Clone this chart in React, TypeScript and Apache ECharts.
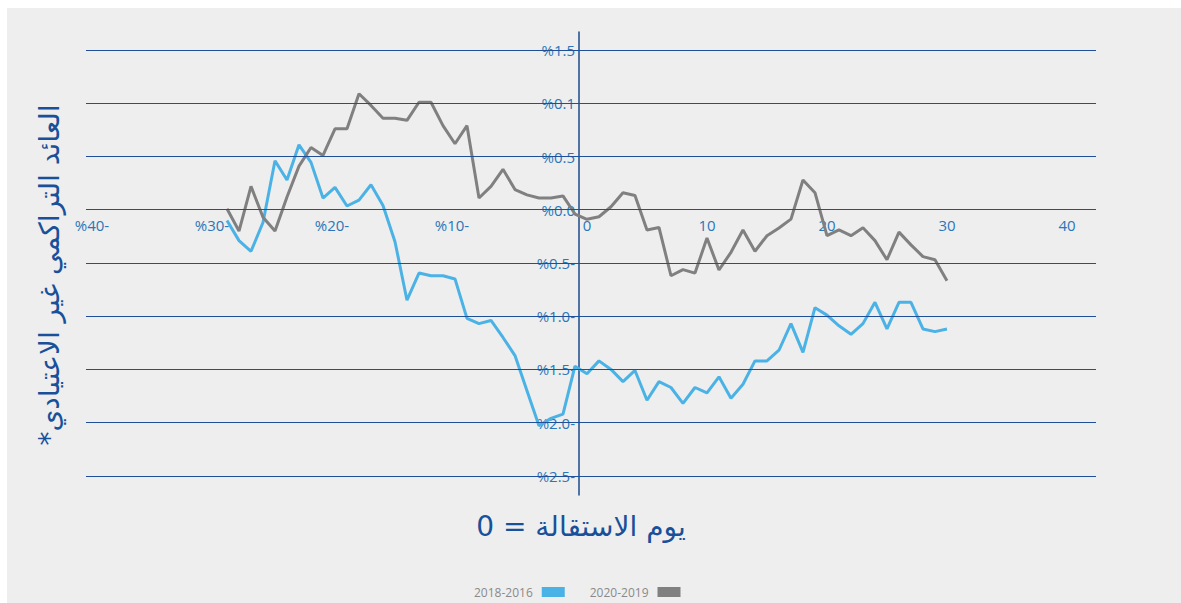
import React, { useEffect, useRef } from "react";
import * as echarts from "echarts";

// Event days (x) from -30 to +30
const days = Array.from({ length: 61 }, (_, i) => i - 30);

// Cumulative abnormal return, 2016-2018 (blue)
const series2018 = [
  -0.1, -0.29, -0.39, -0.12, 0.46, 0.28, 0.61, 0.445, 0.11, 0.21,
  0.035, 0.09, 0.235, 0.04, -0.3, -0.85, -0.595, -0.62, -0.62, -0.65,
  -1.02, -1.07, -1.04, -1.2, -1.37, -1.7, -2.03, -1.96, -1.92, -1.47,
  -1.54,
  -1.42, -1.5, -1.615, -1.51, -1.79, -1.615, -1.67, -1.82, -1.67, -1.72,
  -1.57, -1.77, -1.64, -1.42, -1.42, -1.32, -1.07, -1.34, -0.92, -0.99,
  -1.09, -1.17, -1.07, -0.87, -1.12, -0.87, -0.87, -1.12, -1.145, -1.12,
];

// Cumulative abnormal return, 2019-2020 (gray)
const series2020 = [
  0.01, -0.2, 0.22, -0.07, -0.2, 0.12, 0.41, 0.585, 0.51, 0.76,
  0.76, 1.09, 0.98, 0.86, 0.86, 0.84, 1.01, 1.01, 0.79, 0.62,
  0.79, 0.11, 0.22, 0.38, 0.19, 0.14, 0.11, 0.11, 0.13, -0.04,
  -0.09,
  -0.066, 0.028, 0.16, 0.134, -0.19, -0.166, -0.62, -0.563, -0.595, -0.266,
  -0.566, -0.4, -0.19, -0.39, -0.244, -0.172, -0.088, 0.28, 0.16, -0.244,
  -0.19, -0.244, -0.17, -0.29, -0.47, -0.21, -0.33, -0.44, -0.47, -0.667,
];

const xTickValues = [-40, -30, -20, -10, 0, 10, 20, 30, 40];
const xTickLabels = ["%40-", "%30-", "%20-", "%10-", "0", "10", "20", "30", "40"];
const yTickValues = [-2.5, -2, -1.5, -1, -0.5, 0, 0.5, 1, 1.5];
const yTickLabels = ["%2.5-", "%2.0-", "%1.5-", "%1.0-", "%0.5-", "%0.0", "%0.5", "%0.1", "%1.5"];
const legendNames = ["2018-2016", "2020-2019"];
const xTitle = "يوم الاستقالة = 0";
const yTitle = "العائد التراكمي غير الاعتيادي*";

const BLUE = "#4bb2e6";
const GRAY = "#808080";
const LABEL = "#2a76b8";
const GRID = "#1f4f96";
const TITLE = "#18509a";

export default function App() {
  const ref = useRef<HTMLDivElement>(null);

  useEffect(() => {
    if (!ref.current) return;
    const chart = echarts.init(ref.current, null, { renderer: "svg" });
    const labelFont = { fontFamily: "Open Sans", fontSize: 15, color: LABEL, lineHeight: 14 };

    chart.setOption({
      animation: false,
      backgroundColor: "#eeeeee",
      grid: {
        left: 79,
        top: 24,
        width: 1010,
        height: 463,
        containLabel: false,
        outerBoundsMode: "none",
      },
      xAxis: {
        type: "value",
        min: -41.75,
        max: 42.42,
        position: "bottom",
        offset: -286,
        axisLine: { show: false, onZero: false },
        axisTick: { show: false },
        splitLine: { show: false },
        axisLabel: {
          customValues: xTickValues,
          margin: 9,
          ...labelFont,
          formatter: (v: number) => {
            const t = xTickLabels[xTickValues.indexOf(v)];
            if (v < 0) return `{n|${t}}`;
            return `{p|${t}}`;
          },
          rich: {
            n: { ...labelFont, padding: [0, 30, 0, 0] },
            p: { ...labelFont },
          },
        },
      },
      yAxis: {
        type: "value",
        min: -2.68,
        max: 1.67,
        position: "left",
        offset: -493,
        axisLine: { show: true, onZero: false, lineStyle: { color: "#1d4a8a", width: 1.5 } },
        axisTick: { show: false },
        splitLine: { show: false },
        axisLabel: {
          customValues: yTickValues,
          margin: 4,
          ...labelFont,
          formatter: (v: number) => yTickLabels[yTickValues.indexOf(v)] ?? "",
        },
      },
      legend: {
        data: legendNames,
        left: 467,
        top: 578,
        padding: 0,
        align: "right",
        icon: "rect",
        itemWidth: 23,
        itemHeight: 10,
        itemGap: 25,
        selectedMode: false,
        textStyle: { color: "#8a8a8a", fontSize: 12, fontFamily: "Open Sans", padding: [0, 4, 0, 0] },
      },
      graphic: [
        {
          type: "text",
          x: 574,
          y: 518,
          silent: true,
          style: {
            text: xTitle,
            textAlign: "center",
            textVerticalAlign: "middle",
            fontSize: 28,
            fontFamily: "DejaVu Sans",
            fill: TITLE,
          },
        },
        {
          type: "text",
          x: 42,
          y: 267,
          rotation: Math.PI / 2,
          silent: true,
          style: {
            text: "\u202B" + yTitle + "\u202C",
            textAlign: "center",
            textVerticalAlign: "middle",
            fontSize: 28,
            fontFamily: "DejaVu Sans",
            fill: TITLE,
          },
        },
      ],
      series: [
        {
          name: "gridlines",
          type: "line",
          data: [],
          z: 1,
          silent: true,
          markLine: {
            silent: true,
            symbol: ["none", "none"],
            label: { show: false },
            emphasis: { disabled: true },
            lineStyle: { color: GRID, width: 1, type: "solid" },
            data: yTickValues.map((v) => ({ yAxis: v })),
          },
        },
        {
          name: legendNames[0],
          type: "line",
          z: 3,
          symbol: "none",
          data: days.map((d, i) => [d, series2018[i]]),
          lineStyle: { color: BLUE, width: 3 },
          itemStyle: { color: BLUE },
        },
        {
          name: legendNames[1],
          type: "line",
          z: 3,
          symbol: "none",
          data: days.map((d, i) => [d, series2020[i]]),
          lineStyle: { color: GRAY, width: 3 },
          itemStyle: { color: GRAY },
        },
      ],
    });

    return () => chart.dispose();
  }, []);

  return (
    <div
      ref={ref}
      style={{ position: "absolute", left: 7, top: 8, width: 1174, height: 595, background: "#eeeeee" }}
    />
  );
}
